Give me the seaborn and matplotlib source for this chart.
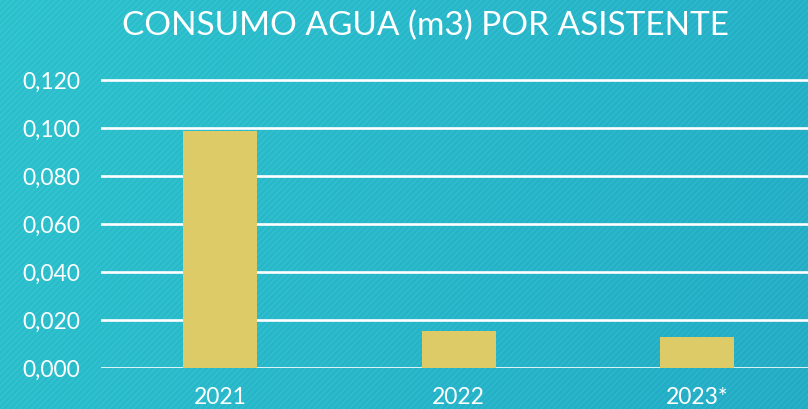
import numpy as np
import pandas as pd
import matplotlib
matplotlib.use("Agg")
import matplotlib.pyplot as plt
import seaborn as sns

years = ["2021", "2022", "2023*"]
consumo = [0.0988, 0.0154, 0.0129]
yticks = [0.0, 0.02, 0.04, 0.06, 0.08, 0.10, 0.12]
ytick_labels = ["0,000", "0,020", "0,040", "0,060", "0,080", "0,100", "0,120"]
title = "CONSUMO AGUA (m3) POR ASISTENTE"

df = pd.DataFrame({"anio": years, "consumo": consumo})

sns.set_theme(style="white")
plt.rcParams["font.family"] = ["Lato", "DejaVu Sans"]

W, H = 808, 409
fig = plt.figure(figsize=(W / 100, H / 100), dpi=100)

# teal background with diagonal stripes
bg = fig.add_axes([0, 0, 1, 1], zorder=-5)
xx, yy = np.meshgrid(np.arange(W), np.arange(H))
c_left = np.array([0x2c, 0xc0, 0xcb]) / 255
c_right = np.array([0x22, 0xaa, 0xc3]) / 255
t = (xx / W * 0.8 + yy / H * 0.2)[..., None]
img = c_left * (1 - t) + c_right * t
stripe = (((xx + yy) % 6) < 3)[..., None] * 0.025
img = np.clip(img + stripe, 0, 1)
bg.imshow(img, aspect="auto", extent=[0, 1, 0, 1])
bg.axis("off")

ax = fig.add_axes([101 / W, 1 - 368 / H, (W - 101) / W, (368 - 79) / H])
ax.set_facecolor("none")
sns.barplot(data=df, x="anio", y="consumo", color="#dccb66", saturation=1,
            width=0.31, linewidth=0, ax=ax, zorder=3)

ax.set_ylim(0, 0.1205)
ax.set_xlim(-0.5, -0.5 + (W - 101) / 238.5)
ax.set_yticks(yticks)
ax.set_yticklabels(ytick_labels)
ax.yaxis.grid(True, color="white", linewidth=1.9, zorder=1)
ax.set_axisbelow(True)
for s in ax.spines.values():
    s.set_visible(False)
ax.tick_params(axis="y", length=0, pad=15, labelsize=16.5, labelcolor="white")
ax.tick_params(axis="x", length=0, pad=14, labelsize=16.5, labelcolor="white")
ax.set_xlabel("")
ax.set_ylabel("")

fig.text(425 / W, 1 - 26 / H, title, ha="center", va="center",
         color="white", fontsize=24)

fig.savefig("out.png", dpi=100)
